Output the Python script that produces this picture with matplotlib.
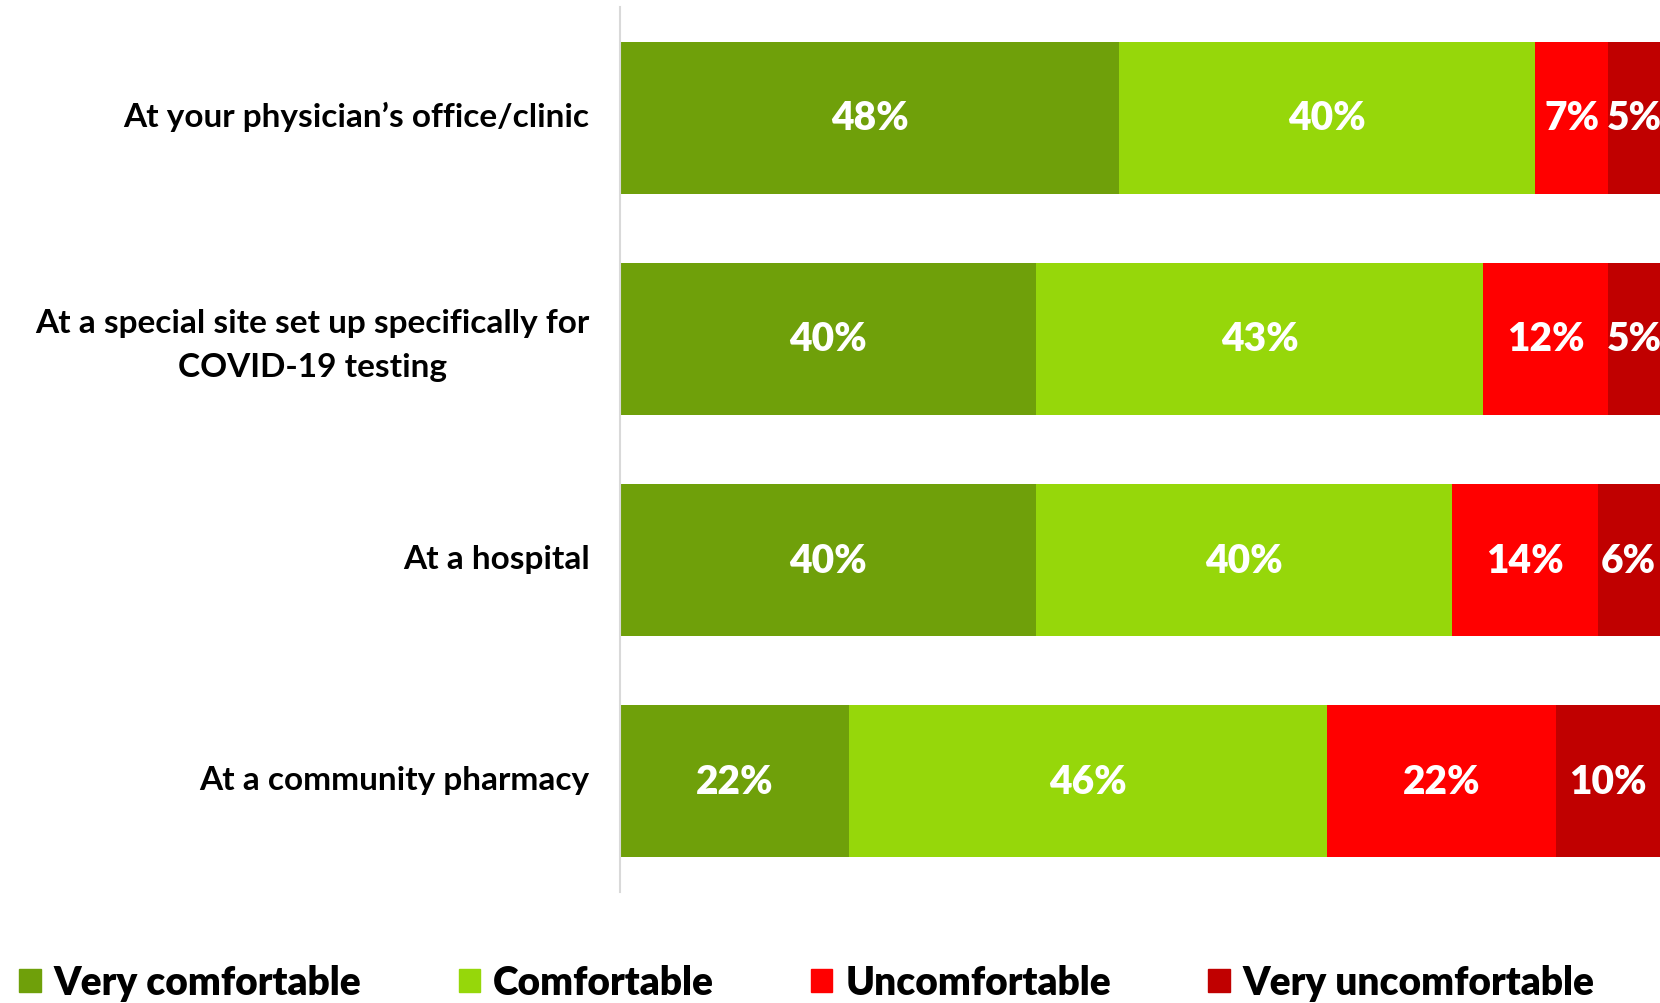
import matplotlib
matplotlib.use("Agg")
import matplotlib.pyplot as plt
import matplotlib.transforms as mtrans
from matplotlib.patches import Patch

plt.rcParams['font.family'] = ['Lato', 'DejaVu Sans']

places = ["At your physician\u2019s office/clinic",
          "At a special site set up specifically for\nCOVID-19 testing",
          "At a hospital",
          "At a community pharmacy"]
series = ["Very comfortable", "Comfortable", "Uncomfortable", "Very uncomfortable"]
very_comf = [48, 40, 40, 22]
comf = [40, 43, 40, 46]
uncomf = [7, 12, 14, 22]
very_uncomf = [5, 5, 6, 10]
colors = ["#6fa00a", "#96d70a", "#ff0000", "#c00000"]

fig = plt.figure(figsize=(16.6, 10.04), dpi=100)
ax = fig.add_axes([0.3735, 0.1106, 0.6265, 0.8814])

ys = range(len(places))
left = [0] * len(places)
for name, vals, col in zip(series, [very_comf, comf, uncomf, very_uncomf], colors):
    bars = ax.barh(ys, vals, left=left, height=0.686, color=col, label=name)
    for b, v in zip(bars, vals):
        ax.text(b.get_x() + b.get_width() / 2, b.get_y() + b.get_height() / 2,
                f"{v}%", ha="center", va="center", color="white",
                fontsize=28, fontweight="heavy")
    left = [l + v for l, v in zip(left, vals)]

ax.set_xlim(0, 100)
ax.set_ylim(len(places) - 0.5, -0.5)
ax.set_xticks([])
ax.set_yticks(list(ys))
ax.set_yticklabels(places, fontsize=24, fontweight="bold",
                   multialignment="center", linespacing=1.6)
ax.tick_params(axis="y", length=0, pad=22)
# nudge category labels up slightly, as in the original
up = mtrans.ScaledTranslation(0, 4 / 100, fig.dpi_scale_trans)
for lab in ax.get_yticklabels():
    lab.set_transform(lab.get_transform() + up)
for s in ["top", "right", "bottom"]:
    ax.spines[s].set_visible(False)
ax.spines["left"].set_color("#d9d9d9")
ax.spines["left"].set_linewidth(1.5)

handles = [Patch(color=c, label=n) for n, c in zip(series, colors)]
fig.legend(handles=handles, loc="center left", bbox_to_anchor=(0.0, 0.02),
           ncol=4, frameon=False, borderaxespad=0.1,
           prop={"weight": "heavy", "size": 28},
           handlelength=0.55, handleheight=0.55, handletextpad=0.33,
           columnspacing=2.5)

fig.savefig("out.png", dpi=100)
